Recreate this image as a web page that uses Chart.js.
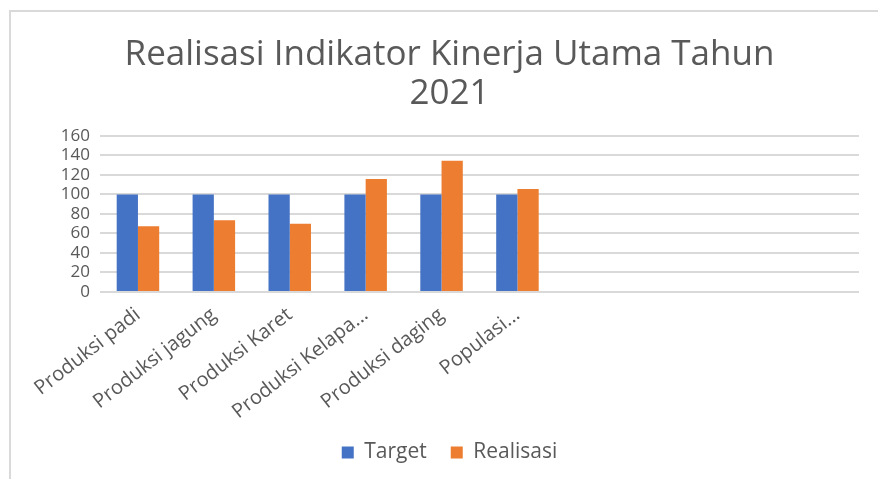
<!DOCTYPE html>
<html>
<head>
<meta charset="utf-8">
<script src="https://cdn.jsdelivr.net/npm/chart.js@4.4.0/dist/chart.umd.min.js"></script>
<style>
  html, body { margin: 0; padding: 0; background: #fff; }
  #wrap { position: relative; width: 878px; height: 479px; overflow: hidden; }
  #frame { position: absolute; left: 9px; top: 10px; width: 900px; height: 500px;
           border-top: 2px solid #d9d9d9; border-left: 2px solid #d9d9d9; }
  #myChart { position: absolute; left: 0; top: 0; }
</style>
</head>
<body>
<div id="wrap">
  <div id="frame"></div>
  <canvas id="myChart" width="878" height="479"></canvas>
</div>
<script>
// datos
var categorias = ['Produksi padi', 'Produksi jagung', 'Produksi Karet', 'Produksi Kelapa...',
                  'Produksi daging', 'Populasi...', '', '', '', ''];
var target    = [100, 100, 100, 100, 100, 100, null, null, null, null];
var realisasi = [67.5, 73.5, 70, 116, 134.5, 105.5, null, null, null, null];
var yTicks    = [0, 20, 40, 60, 80, 100, 120, 140, 160];

var gris = '#595959';
var fuente = "'Open Sans', sans-serif";

var ctx = document.getElementById('myChart').getContext('2d');
var myChart = new Chart(ctx, {
  type: 'bar',
  data: {
    labels: categorias,
    datasets: [{
      label: 'Target',
      data: target,
      backgroundColor: '#4472C4'
    }, {
      label: 'Realisasi',
      data: realisasi,
      backgroundColor: '#ED7D31'
    }]
  },
  options: {
    responsive: false,
    animation: false,
    // padding izquierdo para centrar titulo y leyenda como en el original
    layout: { padding: { left: 40, right: 19, top: 0, bottom: 6 } },
    datasets: { bar: { categoryPercentage: 0.56, barPercentage: 1.0 } },
    plugins: {
      title: {
        display: true,
        text: ['Realisasi Indikator Kinerja Utama Tahun', '2021'],
        color: gris,
        font: { family: fuente, size: 35, weight: 'normal', lineHeight: 1.114 },
        padding: { top: 36, bottom: 22 }
      },
      legend: {
        position: 'bottom',
        labels: {
          color: gris,
          font: { family: fuente, size: 21 },
          boxWidth: 12,
          boxHeight: 12,
          padding: 24
        }
      },
      tooltip: { enabled: false }
    },
    scales: {
      x: {
        grid: { display: false },
        border: { display: false },
        ticks: {
          color: gris,
          font: { family: fuente, size: 20 },
          minRotation: 38,
          maxRotation: 38,
          padding: 3,
          autoSkip: false
        },
        afterFit: function (scale) { scale.height = 126; }
      },
      y: {
        min: 0,
        max: 160,
        afterBuildTicks: function (scale) {
          scale.ticks = yTicks.map(function (v) { return { value: v }; });
        },
        grid: { color: '#d9d9d9', lineWidth: 2, drawTicks: false },
        border: { display: false },
        ticks: {
          color: gris,
          font: { family: fuente, size: 17 },
          padding: 10,
          autoSkip: false
        },
        afterFit: function (scale) { scale.width = 60; }
      }
    }
  }
});
</script>
</body>
</html>
